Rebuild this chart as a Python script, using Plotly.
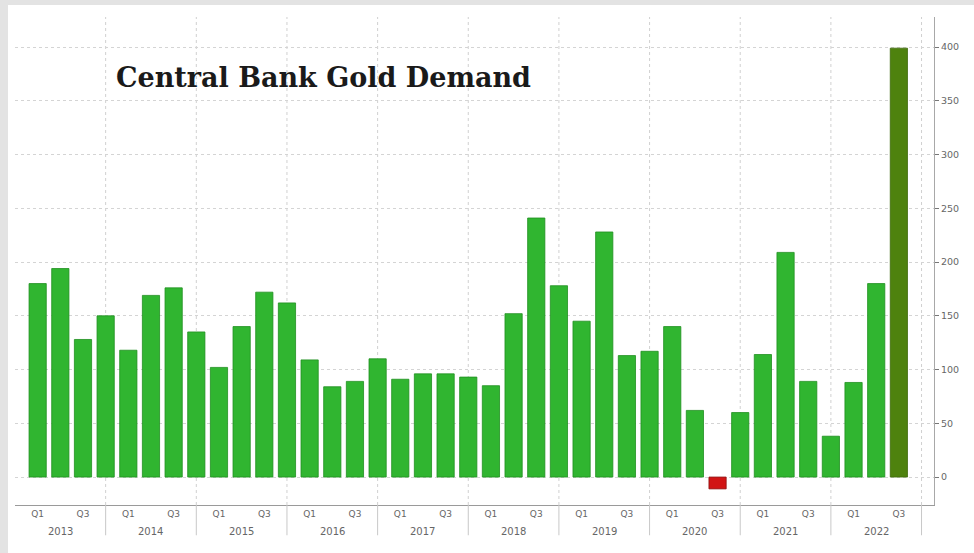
import plotly.graph_objects as go

years = list(range(2013, 2023))
quarters = ["Q1", "Q2", "Q3", "Q4"]
periods = [f"{y} {q}" for y in years for q in quarters][:39]
values = [180, 194, 128, 150,
          118, 169, 176, 135,
          102, 140, 172, 162,
          109, 84, 89, 110,
          91, 96, 96, 93,
          85, 152, 241, 178,
          145, 228, 113, 117,
          140, 62, -11, 60,
          114, 209, 89, 38,
          88, 180, 399]
y_ticks = [0, 50, 100, 150, 200, 250, 300, 350, 400]
title_text = "Central Bank Gold Demand"

x_idx = list(range(len(values)))
colors = []
for i, v in enumerate(values):
    if v < 0:
        colors.append("#d11414")
    elif i == len(values) - 1:
        colors.append("#4e820e")
    else:
        colors.append("#30b530")
line_colors = ["#8a1010" if v < 0 else ("#3d6a0a" if i == len(values) - 1 else "#1f8f1f") for i, v in enumerate(values)]

fig = go.Figure()
fig.add_trace(go.Bar(x=x_idx, y=values, width=0.76,
                     marker=dict(color=colors, line=dict(color=line_colors, width=0.8)),
                     hoverinfo="skip"))

# x tick labels: Q1 and Q3 of each year
tickvals = [i for i, p in enumerate(periods) if p.endswith("Q1") or p.endswith("Q3")]
ticktext = [periods[i].split()[1] for i in tickvals]

shapes = []
# white panel over gray background
shapes.append(dict(type="rect", xref="paper", yref="paper", x0=-0.0076, x1=1.05, y0=-0.11, y1=1.0246,
                   fillcolor="white", line=dict(width=0), layer="below"))
# vertical dotted gridlines and year separators at Q4 positions
n_years = len(years)
for k in range(n_years):
    xv = 4 * k + 3
    shapes.append(dict(type="line", xref="x", yref="paper", x0=xv, x1=xv, y0=0, y1=1,
                       line=dict(color="#d0d0d0", width=1, dash="dot"), layer="below"))
    shapes.append(dict(type="line", xref="x", yref="paper", x0=xv, x1=xv, y0=0, y1=-0.062,
                       line=dict(color="#c8c8c8", width=1)))

annotations = []
for k, y in enumerate(years):
    annotations.append(dict(x=4 * k + 1, y=-0.054, xref="x", yref="paper", text=str(y),
                            showarrow=False, font=dict(family="DejaVu Sans", size=10, color="#666666"),
                            yanchor="middle"))
annotations.append(dict(x=0.108, y=0.877, xref="paper", yref="paper", text="<b>" + title_text + "</b>",
                        showarrow=False, xanchor="left", yanchor="middle",
                        font=dict(family="DejaVu Serif", size=27, color="#1a1a1a")))

fig.update_layout(
    width=974, height=553,
    margin=dict(l=15, r=40, t=17, b=48),
    paper_bgcolor="#e3e3e3",
    plot_bgcolor="rgba(0,0,0,0)",
    showlegend=False,
    shapes=shapes,
    annotations=annotations,
    xaxis=dict(range=[-1.0, 39.55], tickvals=tickvals, ticktext=ticktext, showgrid=False,
               zeroline=False, showline=True, linecolor="#9a9a9a", linewidth=1,
               ticks="", tickfont=dict(family="DejaVu Sans", size=9, color="#666666")),
    yaxis=dict(side="right", range=[-26, 428], tickvals=y_ticks, showgrid=True,
               gridcolor="#d4d4d4", griddash="dot", gridwidth=1, zeroline=False,
               showline=True, linecolor="#a8a8a8", linewidth=1, ticks="outside", ticklen=4,
               tickcolor="#777777", tickfont=dict(family="DejaVu Sans", size=9.5, color="#666666")),
)

fig.write_html("out.html")
